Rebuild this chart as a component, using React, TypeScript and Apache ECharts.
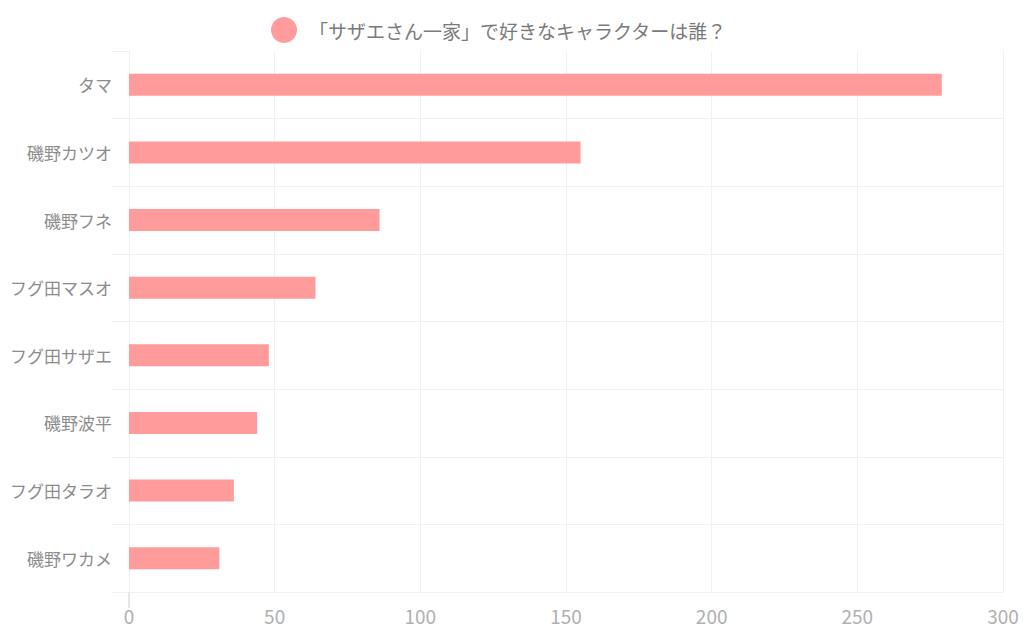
import React, { useEffect, useRef } from "react";
import * as echarts from "echarts";

const categories = ["タマ", "磯野カツオ", "磯野フネ", "フグ田マスオ", "フグ田サザエ", "磯野波平", "フグ田タラオ", "磯野ワカメ"];
const values = [279, 155, 86, 64, 48, 44, 36, 31];
const seriesName = "「サザエさん一家」で好きなキャラクターは誰？";
const xMin = 0;
const xMax = 300;
const xInterval = 50;

const FONT = "'Noto Sans CJK JP', 'Noto Sans', sans-serif";
const GRID = { left: 129, right: 21, top: 51, bottom: 42 };

export default function App() {
  const ref = useRef<HTMLDivElement>(null);
  useEffect(() => {
    document.body.style.margin = "0";
    if (!ref.current) return;
    const chart = echarts.init(ref.current, null, { renderer: "svg" });
    const lineColor = "#f0f0f0";
    const splitColors = categories.map(() => lineColor);
    splitColors.unshift("rgba(0,0,0,0)");
    chart.setOption({
      animation: false,
      backgroundColor: "#ffffff",
      legend: {
        show: true,
        left: 266,
        top: 12,
        icon: "circle",
        itemWidth: 40,
        itemHeight: 26,
        textStyle: { fontFamily: FONT, fontSize: 19, color: "#7a7a7a" },
        data: [seriesName],
      },
      grid: { ...GRID, containLabel: false },
      xAxis: {
        type: "value",
        min: xMin,
        max: xMax,
        interval: xInterval,
        axisLine: { show: false },
        axisTick: { show: false },
        axisLabel: { fontFamily: FONT, fontSize: 19, color: "#b0b0b0", margin: 14 },
        splitLine: { show: true, lineStyle: { color: lineColor, width: 1 } },
      },
      yAxis: {
        type: "category",
        inverse: true,
        data: categories,
        axisLine: { show: false },
        axisTick: { show: true, length: 17, lineStyle: { color: lineColor } },
        axisLabel: { fontFamily: FONT, fontSize: 17, color: "#8c8c8c", margin: 17 },
        splitLine: { show: true, lineStyle: { color: splitColors, width: 1 } },
      },
      series: [
        {
          name: seriesName,
          type: "bar",
          data: values,
          barWidth: 22,
          itemStyle: { color: "#ff9b9b" },
        },
      ],
    });
    const p = chart.convertToPixel({ gridIndex: 0 }, [0, 0]) as number[];
    const bottom = 634 - GRID.bottom;
    chart.setOption({
      graphic: [
        {
          type: "line",
          shape: { x1: p[0], y1: bottom, x2: p[0], y2: bottom + 16 },
          style: { stroke: "#cccccc", lineWidth: 1 },
        },
      ],
    });
    return () => chart.dispose();
  }, []);
  return <div ref={ref} style={{ width: 1024, height: 634 }} />;
}
